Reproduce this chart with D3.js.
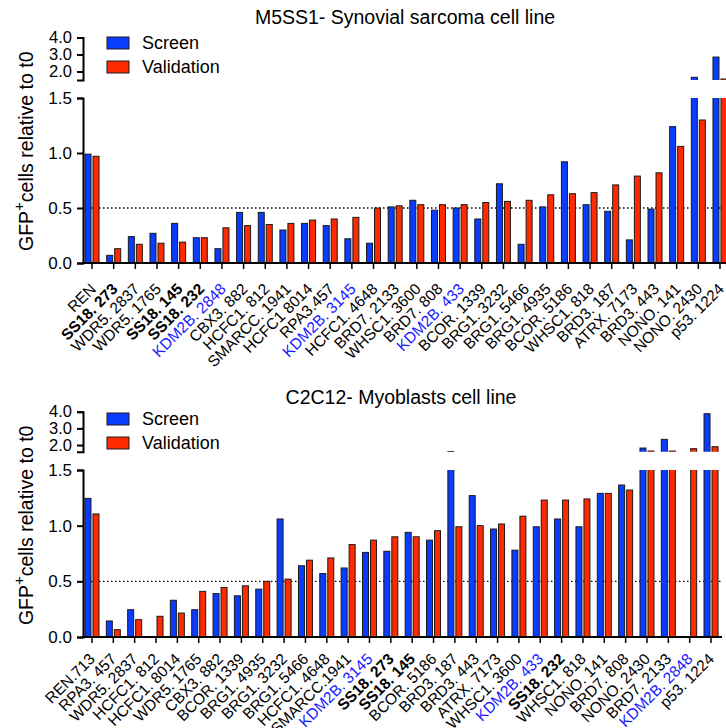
<!DOCTYPE html>
<html>
<head>
<meta charset="utf-8">
<script src="https://cdn.jsdelivr.net/npm/d3@7"></script>
<style>
  body { margin: 0; background: #fff; }
  svg { font-family: "Liberation Sans", Arial, sans-serif; }
</style>
</head>
<body>
<script>
// Two GFP competition panels, same look, different data.

// M5SS1 panel
let m5ss1_labels = ['REN', 'SS18. 273', 'WDR5. 2837', 'WDR5. 1765', 'SS18. 145', 'SS18. 232', 'KDM2B. 2848',
    'CBX3. 882', 'HCFC1. 812', 'SMARCC. 1941', 'HCFC1 8014', 'RPA3.457', 'KDM2B. 3145', 'HCFC1. 4648',
    'BRD7. 2133', 'WHSC1. 3600', 'BRD7. 808', 'KDM2B. 433', 'BCOR. 1339', 'BRG1. 3232', 'BRG1. 5466',
    'BRG1. 4935', 'BCOR. 5186', 'WHSC1. 818', 'BRD3. 187', 'ATRX. 7173', 'BRD3. 443', 'NONO. 141',
    'NONO. 2430', 'p53. 1224'];
let m5ss1_screen = [0.99, 0.07, 0.24, 0.27, 0.36, 0.23, 0.13, 0.46, 0.46, 0.30, 0.36, 0.34, 0.22, 0.18,
    0.51, 0.57, 0.48, 0.50, 0.40, 0.72, 0.17, 0.51, 0.92, 0.53, 0.47, 0.21, 0.49, 1.24, 1.66, 2.85];
let m5ss1_validation = [0.97, 0.13, 0.17, 0.18, 0.19, 0.23, 0.32, 0.34, 0.35, 0.36, 0.39, 0.40, 0.415, 0.50,
    0.52, 0.53, 0.53, 0.53, 0.55, 0.56, 0.57, 0.62, 0.63, 0.64, 0.71, 0.79, 0.82, 1.06, 1.30, 1.56];

// C2C12 panel
let c2c12_labels = ['REN.713', 'RPA3. 457', 'WDR5. 2837', 'HCFC1. 812', 'HCFC1. 8014', 'WDR5. 1765',
    'CBX3. 882', 'BCOR. 1339', 'BRG1. 4935', 'BRG1. 3232', 'BRG1. 5466', 'HCFC1. 4648', 'SMARCC.1941',
    'KDM2B. 3145', 'SS18. 273', 'SS18. 145', 'BCOR. 5186', 'BRD3. 187', 'BRD3. 443', 'ATRX. 7173',
    'WHSC1. 3600', 'KDM2B. 433', 'SS18. 232', 'WHSC1. 818', 'NONO. 141', 'BRD7. 808', 'NONO. 2430',
    'BRD7. 2133', 'KDM2B. 2848', 'p53. 1224'];
let c2c12_screen = [1.245, 0.144, 0.245, 0, 0.33, 0.245, 0.39, 0.37, 0.43, 1.06, 0.64, 0.57, 0.62, 0.76,
    0.77, 0.94, 0.87, 1.61, 1.27, 0.97, 0.78, 0.99, 1.06, 0.99, 1.29, 1.365, 1.82, 2.34, 0, 3.88];
let c2c12_validation = [1.105, 0.066, 0.156, 0.186, 0.215, 0.41, 0.445, 0.46, 0.50, 0.52, 0.69, 0.71, 0.83,
    0.87, 0.90, 0.90, 0.955, 0.99, 1.0, 1.015, 1.085, 1.23, 1.23, 1.24, 1.29, 1.32, 1.64, 1.64, 1.78, 1.9];

let lower_ticks = [0, 0.5, 1.0, 1.5];
let upper_ticks = [2.0, 3.0, 4.0];
let series_names = ['Screen', 'Validation'];
let colors = ['#0a3cff', '#ff2a00'];

let svg = d3.select('body').append('svg')
    .attr('width', 726)
    .attr('height', 728);

let defs = svg.append('defs');

drawPanel({
    id: 'top', title: 'M5SS1- Synovial sarcoma cell line', titleX: 405, titleY: 24,
    labels: m5ss1_labels, screen: m5ss1_screen, validation: m5ss1_validation,
    x0: 81.2, x1: 730.8, axisEnd: 726,
    yZero: 263, yLowTop: 98, upperMin: 1.5, yUpperMin: 80, yUpperMax: 37.5,
    legendY: 37, labelShift: [5, 27]
});

drawPanel({
    id: 'bottom', title: 'C2C12- Myoblasts cell line', titleX: 401, titleY: 404,
    labels: c2c12_labels, screen: c2c12_screen, validation: c2c12_validation,
    x0: 81.3, x1: 721.7, axisEnd: 722,
    yZero: 637, yLowTop: 470, upperMin: 1.6, yUpperMin: 451.7, yUpperMax: 411.7,
    legendY: 413, labelShift: [4, 23]
});

function drawPanel(p) {
    let g = svg.append('g');
    let axisX = 83;

    let x = d3.scaleBand()
        .domain(p.labels)
        .range([p.x0, p.x1]);

    let yLow = d3.scaleLinear().domain([0, 1.5]).range([p.yZero, p.yLowTop]);
    let yUp = d3.scaleLinear().domain([p.upperMin, 4.0]).range([p.yUpperMin, p.yUpperMax]);

    // clip regions so bars that cross the break get cut cleanly
    defs.append('clipPath').attr('id', p.id + '-low')
        .append('rect').attr('x', axisX).attr('y', p.yLowTop)
        .attr('width', 726).attr('height', p.yZero - p.yLowTop);
    defs.append('clipPath').attr('id', p.id + '-up')
        .append('rect').attr('x', axisX).attr('y', 0)
        .attr('width', 726).attr('height', p.yUpperMin);

    let bars = [];
    p.labels.forEach(function(lab, i) {
        bars.push({ lab: lab, s: 0, v: p.screen[i] });
        bars.push({ lab: lab, s: 1, v: p.validation[i] });
    });
    let bw = 6;
    let bx = (d) => x(d.lab) + x.bandwidth() / 2 + (d.s == 0 ? -bw - 1 : 1);

    // dotted threshold at 0.5
    g.append('line')
        .attr('x1', axisX).attr('x2', p.axisEnd)
        .attr('y1', yLow(0.5)).attr('y2', yLow(0.5))
        .style('stroke', '#000').style('stroke-width', 1.3)
        .style('stroke-dasharray', '1.5,2.5');

    g.append('g').attr('clip-path', 'url(#' + p.id + '-low)')
        .selectAll('rect')
        .data(bars.filter((d) => d.v > 0))
        .join('rect')
            .attr('x', bx)
            .attr('width', bw)
            .attr('y', (d) => d.v > 1.5 ? p.yLowTop - 3 : yLow(d.v))
            .attr('height', (d) => p.yZero - (d.v > 1.5 ? p.yLowTop - 3 : yLow(d.v)))
            .style('fill', (d) => colors[d.s])
            .style('stroke', '#1a1a1a').style('stroke-width', 1);

    g.append('g').attr('clip-path', 'url(#' + p.id + '-up)')
        .selectAll('rect')
        .data(bars.filter((d) => d.v > p.upperMin))
        .join('rect')
            .attr('x', bx)
            .attr('width', bw)
            .attr('y', (d) => yUp(d.v))
            .attr('height', (d) => p.yUpperMin + 3 - yUp(d.v))
            .style('fill', (d) => colors[d.s])
            .style('stroke', '#1a1a1a').style('stroke-width', 1);

    // y axes, lower and upper pieces
    let fmt = d3.format('.1f');
    let aLow = g.append('g')
        .attr('transform', 'translate(' + axisX + ',0)')
        .call(d3.axisLeft(yLow).tickValues(lower_ticks).tickFormat(fmt).tickSize(6).tickPadding(5));
    let aUp = g.append('g')
        .attr('transform', 'translate(' + axisX + ',0)')
        .call(d3.axisLeft(yUp).tickValues(upper_ticks).tickFormat(fmt).tickSize(6).tickPadding(5));
    [aLow, aUp].forEach(function(a) {
        a.select('.domain').style('stroke-width', 2);
        a.selectAll('.tick line').style('stroke-width', 2);
        a.selectAll('text').style('font-size', '17px').style('fill', '#000')
            .style('font-family', '"Liberation Sans", Arial, sans-serif');
    });
    // upper labels sit tight, shrink them a touch
    aUp.selectAll('text').style('font-size', '16.5px');

    // x axis
    g.append('line')
        .attr('x1', axisX - 1).attr('x2', p.axisEnd)
        .attr('y1', p.yZero).attr('y2', p.yZero)
        .style('stroke', '#000').style('stroke-width', 2);

    let ticks = g.append('g').selectAll('.xtick')
        .data(p.labels)
        .join('g')
            .attr('class', 'xtick')
            .attr('transform', (d) => 'translate(' + (x(d) + x.bandwidth() / 2) + ',' + p.yZero + ')');
    ticks.append('line')
        .attr('y1', 0).attr('y2', 6)
        .style('stroke', '#000').style('stroke-width', 1.5);
    ticks.append('text')
        .attr('transform', 'translate(' + p.labelShift[0] + ',' + p.labelShift[1] + ') rotate(-45)')
        .attr('text-anchor', 'end')
        .style('font-size', '15.5px')
        .style('font-weight', (d) => d.startsWith('SS18') ? 'bold' : 'normal')
        .style('fill', (d) => d.startsWith('KDM2B') ? '#1a1aff' : '#000')
        .text((d) => d);

    // title
    g.append('text')
        .attr('x', p.titleX).attr('y', p.titleY)
        .attr('text-anchor', 'middle')
        .style('font-size', '19.5px')
        .text(p.title);

    // y label with superscript +
    let yl = g.append('text')
        .attr('transform', 'translate(33,' + ((p.yZero + p.yUpperMax) / 2 + 1) + ') rotate(-90)')
        .attr('text-anchor', 'middle')
        .style('font-size', '19.5px');
    yl.append('tspan').text('GFP');
    yl.append('tspan').attr('dy', -9).style('font-size', '15px').text('+');
    yl.append('tspan').attr('dy', 9).text('cells relative to t0');

    // legend
    let leg = g.append('g').selectAll('g')
        .data(series_names)
        .join('g')
            .attr('transform', (d, i) => 'translate(107,' + (p.legendY + i * 24) + ')');
    leg.append('rect')
        .attr('width', 22).attr('height', 12)
        .style('fill', (d, i) => colors[i])
        .style('stroke', '#1a1a1a').style('stroke-width', 1);
    leg.append('text')
        .attr('x', 35).attr('y', 6).attr('dy', '0.35em')
        .style('font-size', '18px')
        .text((d) => d);
}
</script>
</body>
</html>
